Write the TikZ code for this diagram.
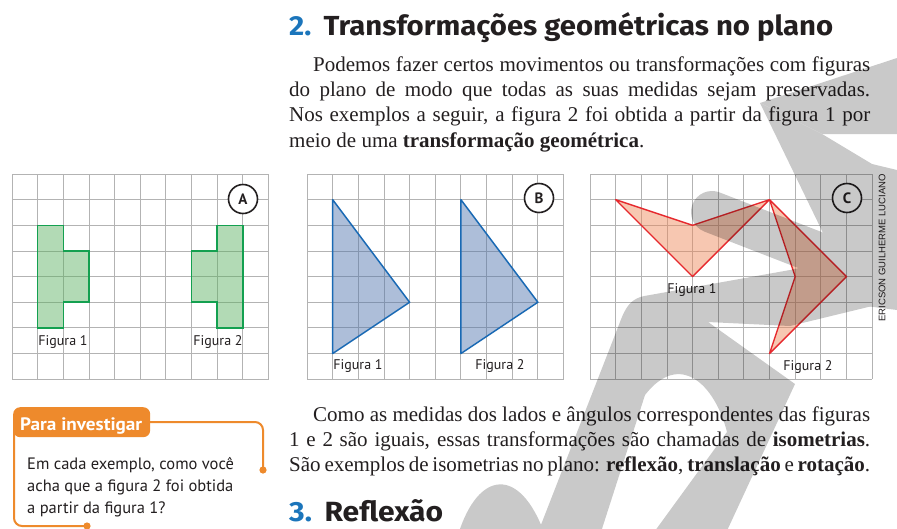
\documentclass[tikz,border=0pt]{standalone}
\usepackage{fontspec}
\setmainfont{Liberation Serif}
\newfontfamily\headf{Fira Sans}
\newfontfamily\labf{PT Sans}
\newfontfamily\credf{Liberation Sans}
\usepackage{graphicx}
\definecolor{hblue}{HTML}{1B75BB}
\definecolor{ink}{HTML}{231F20}
\definecolor{gridc}{HTML}{B3B3B3}
\definecolor{gfill}{RGB}{86,175,91}
\definecolor{gline}{RGB}{20,160,80}
\definecolor{bfill}{RGB}{75,113,171}
\definecolor{bline}{RGB}{25,105,180}
\definecolor{rfill}{RGB}{239,133,84}
\definecolor{rline}{RGB}{230,40,45}
\definecolor{orng}{HTML}{EE8A2C}
\def\cs{25.65}
\newcommand\gridsheet[4]{%
  \foreach \i in {0,...,#3} \draw[gridl] ({#1+\i*\cs},#2) -- ({#1+\i*\cs},{#2+#4*\cs});
  \foreach \j in {0,...,#4} \draw[gridl] (#1,{#2+\j*\cs}) -- ({#1+#3*\cs},{#2+\j*\cs});}
\tikzset{
  gridl/.style={draw=gridc, line width=0.9pt},
  figg/.style={fill=gfill, fill opacity=0.45, draw=gline, line width=1.6pt, line join=miter},
  figb/.style={fill=bfill, fill opacity=0.45, draw=bline, line width=1.5pt, line join=round},
  figr/.style={fill=rfill, fill opacity=0.45, draw=rline, line width=1.4pt, line join=round},
  lab/.style={font=\labf\fontsize{14}{14}\selectfont, inner sep=0pt, text=ink, anchor=base},
  circ/.style={circle, draw=ink, line width=1.6pt, minimum size=29pt, inner sep=0pt, fill=white,
     font=\labf\bfseries\fontsize{15}{15}\selectfont, text=ink},
  body/.style={font=\fontsize{21}{25}\selectfont, inner sep=0pt, anchor=base west, text=ink},
  boxt/.style={font=\labf\fontsize{16.5}{20}\selectfont, inner sep=0pt, anchor=base west, text=ink},
  head/.style={inner sep=0pt, anchor=base west, text=ink},
  obox/.style={draw=orng, line width=2pt, rounded corners=8pt},
}
\begin{document}
\begin{tikzpicture}[x=1pt, y=-1pt]
\useasboundingbox (0,0) rectangle (897,528);
\fill[white] (0,0) rectangle (897,528);

% headings
\node[head] (h2) at (289,35) {\resizebox{544pt}{23pt}{\headf\bfseries\fontsize{32}{32}\selectfont\textcolor{hblue}{2.}\hspace{0.42em}Transformações geométricas no plano}};
\node[head] (h3) at (289,521) {\resizebox{154pt}{22pt}{\headf\bfseries\fontsize{32}{32}\selectfont\textcolor{hblue}{3.}\hspace{0.42em}Reflexão}};

% first paragraph
\node[body] (p1) at (313,71) {\makebox[557pt][s]{Podemos fazer certos movimentos ou transformações com figuras}};
\node[body] (p2) at (289,96) {\makebox[581pt][s]{do plano de modo que todas as suas medidas sejam preservadas.}};
\node[body] (p3) at (289,121) {\makebox[581pt][s]{Nos exemplos a seguir, a figura 2 foi obtida a partir da figura 1 por}};
\node[body] (p4) at (289,147) {meio de uma \textbf{transformação geométrica}.};

% second paragraph
\node[body] (q1) at (313,421) {\makebox[557pt][s]{Como as medidas dos lados e ângulos correspondentes das figuras}};
\node[body] (q2) at (289,446) {\makebox[581pt][s]{1 e 2 são iguais, essas transformações são chamadas de \textbf{isometrias}.}};
\node[body] (q3) at (289,471) {\makebox[581pt][s]{São exemplos de isometrias no plano: \textbf{reflexão}, \textbf{translação} e \textbf{rotação}.}};

% grid A
\gridsheet{12}{174}{10}{8}
\begin{scope}[shift={(12,174)}, x=\cs pt, y=-\cs pt]
  \filldraw[figg] (1,2) -- (2,2) -- (2,3) -- (3,3) -- (3,5) -- (2,5) -- (2,6) -- (1,6) -- cycle;
  \filldraw[figg] (8,2) -- (9,2) -- (9,6) -- (8,6) -- (8,5) -- (7,5) -- (7,3) -- (8,3) -- cycle;
\end{scope}
\node[lab] (a1) at (63,345) {Figura 1};
\node[lab] (a2) at (218,345) {Figura 2};
\node[circ] (ca) at (243,199) {A};

% grid B
\gridsheet{307}{174}{10}{8}
\begin{scope}[shift={(307,174)}, x=\cs pt, y=-\cs pt]
  \filldraw[figb] (1,1) -- (4,5) -- (1,7) -- cycle;
  \filldraw[figb] (6,1) -- (9,5) -- (6,7) -- cycle;
\end{scope}
\node[lab] (b1) at (358,369) {Figura 1};
\node[lab] (b2) at (500,369) {Figura 2};
\node[circ] (cb) at (539,198) {B};

% grid C
\gridsheet{590}{174}{11}{8}
\begin{scope}[shift={(590,174)}, x=\cs pt, y=-\cs pt]
  \filldraw[figr] (1,1) -- (4,2) -- (7,1) -- (4,4) -- cycle;
  \filldraw[figr] (7,1) -- (10,4) -- (7,7) -- (8,4) -- cycle;
\end{scope}
\node[lab] (c1) at (692,293) {Figura 1};
\node[lab] (c2) at (808,370) {Figura 2};
\node[circ] (cc) at (847,198) {C};

% credit
\node[rotate=90, inner sep=0pt, font=\credf\fontsize{9.5}{10}\selectfont, text=ink] (cr) at (882,248) {ERICSON GUILHERME LUCIANO};

% Para investigar box
\coordinate (dotR) at (263,470);
\coordinate (dotL) at (87,526);
\draw[obox] (150,422) -- (263,422) -- (dotR);
\draw[obox] (14,430) -- (14,526) -- (dotL);
\fill[orng] (dotR) circle (3.6pt);
\fill[orng] (dotL) circle (3.6pt);
\node[fill=orng, rounded corners=7pt, minimum width=137pt, minimum height=30pt, inner sep=0pt, anchor=north west] (tab) at (13,407) {};
\node[inner sep=0pt, anchor=base west, text=white] (tabt) at (20,430) {\resizebox{122pt}{12.8pt}{\labf\bfseries\fontsize{17}{17}\selectfont Para investigar}};
\node[boxt] (t1) at (27,469) {Em cada exemplo, como você};
\node[boxt] (t2) at (27,491) {acha que a figura 2 foi obtida};
\node[boxt] (t3) at (27,513) {a partir da figura 1?};

% watermark
\begin{scope}[transparency group, opacity=0.21]
  \fill[black] (458,535) .. controls (478,470) and (520,465) .. (545,535) -- cycle;
  \fill[black] (537,535) -- (620,322) .. controls (628,300) and (636,297) .. (650,295)
     -- (790,270) -- (880,250) -- (897,262) -- (897,300) -- (790,326) -- (708,322)
     -- (795,384) -- (725,535) -- (652,535) -- (727,432)
     .. controls (715,385) and (680,350) .. (645,395) -- (600,535) -- cycle;
  \draw[black, line width=42pt, line cap=round] (712,212) -- (900,285);
  \fill[black] (760,103) -- (897,58) -- (897,134) -- (822,134) -- cycle;
  \fill[black] (760,103) -- (822,134) -- (872,164) -- (897,170) -- (897,310) -- (858,305) -- cycle;
\end{scope}
\end{tikzpicture}
\end{document}
